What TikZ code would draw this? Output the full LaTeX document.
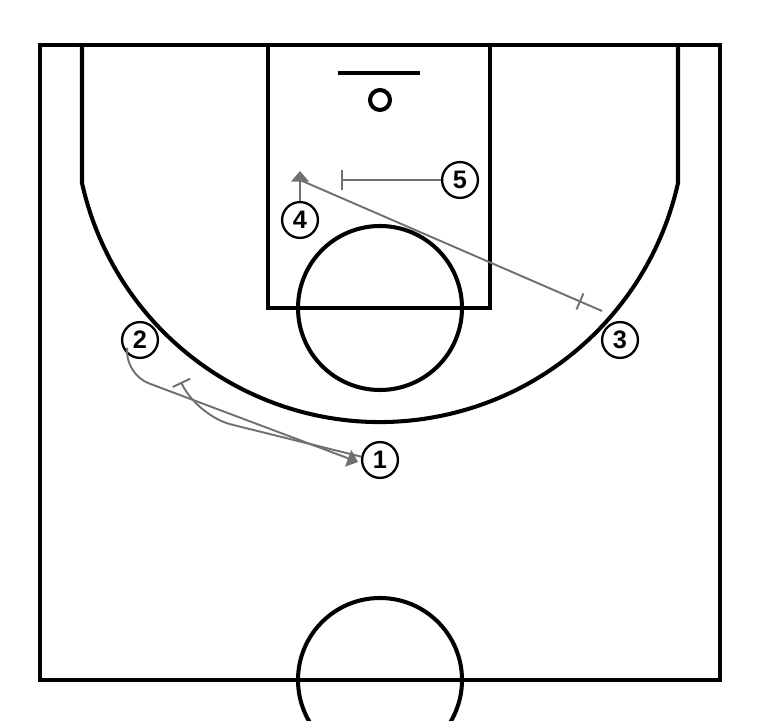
\documentclass[tikz,border=0pt]{standalone}
\usepackage{fontspec}
\setmainfont{Liberation Sans}
\usetikzlibrary{arrows.meta,positioning,calc}
\definecolor{movegray}{RGB}{112,112,112}

\begin{document}
\begin{tikzpicture}[x=0.02cm,y=0.02cm,
  court/.style={line width=2.3pt,draw=black},
  player/.style={circle,draw=black,line width=1.3pt,fill=white,minimum size=20.4pt,inner sep=0pt,font=\Large\bfseries},
  move/.style={line width=1.1pt,draw=movegray},
  cut/.style={move,-{Triangle[width=10pt,length=6pt,fill=movegray]}},
  screen/.style={move,-{Bar[width=11pt]}}]
  \useasboundingbox (0,0) rectangle (760,720);
  \clip (0,0) rectangle (760,720);

  % half court
  \draw[court] (40,40) rectangle (720,675);
  \draw[court] (380,40) circle (82);
  % lane and free throw circle
  \draw[court] (268,675) -- (268,412) -- (490,412) -- (490,675);
  \draw[court] (380,412) circle (82);
  % board and rim
  \draw[court] (338,647) -- (420,647);
  \draw[court] (380,620) circle (10);
  % three point line
  \draw[court] (82,675) -- (82,537) arc[start angle=192.54,end angle=347.46,radius=305.3] -- (678,675);

  % players
  \node[player] (p1) at (380,260) {1};
  \node[player] (p2) at (140,380) {2};
  \node[player] (p3) at (620,380) {3};
  \node[player] (p4) at (300,500) {4};
  \node[player] (p5) at (460,540) {5};

  \coordinate (a4) at (300,549);
  \coordinate (s5) at (341,540);
  \coordinate (d1) at (300,540);
  \coordinate (d2) at (602,409);
  \coordinate (a1) at (358,258);
  \coordinate (b2) at (181,338);

  % 4 flashes up, 5 screens
  \draw[cut] (p4) -- (a4);
  \draw[screen] (p5) -- (s5);
  \draw[move] (d1) -- (d2);
  \coordinate (t3) at ($(d1)!0.927!(d2)$);
  \draw[move] ($(t3)!5pt!90:(d2)$) -- ($(t3)!5pt!-90:(d2)$);

  % 2 cuts off the screen of 1
  \draw[cut,rounded corners=15] (p2.225) -- (124,346) -- (a1);
  \draw[screen,rounded corners=20] (p1.170) -- (197,304) -- (b2);
\end{tikzpicture}
\end{document}
